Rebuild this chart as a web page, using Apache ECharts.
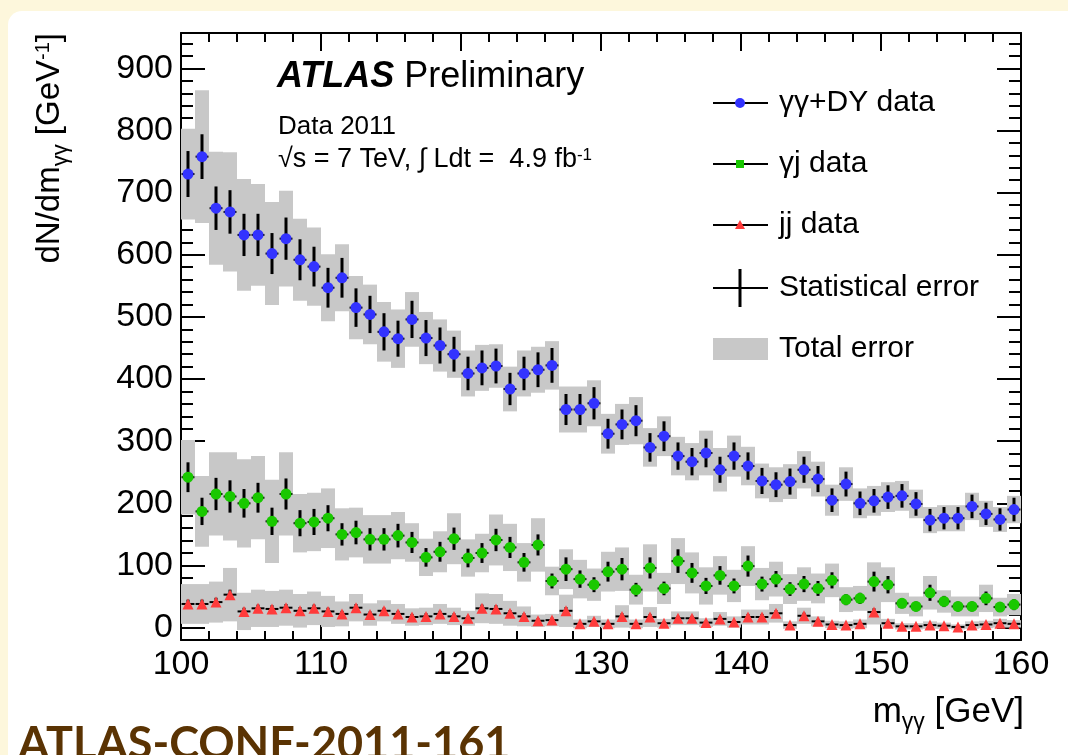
<!DOCTYPE html>
<html>
<head>
<meta charset="utf-8">
<title>Diphoton sample composition, ATLAS 2011</title>
<script src="https://cdn.jsdelivr.net/npm/echarts@6.0.0/dist/echarts.min.js"></script>
<style>
  html, body { margin: 0; padding: 0; }
  body { width: 1068px; height: 755px; background: #fdf7dc; position: relative; overflow: hidden; }
  #panel { position: absolute; left: 8px; top: 11px; right: 0; bottom: 0; background: #ffffff; border-top-left-radius: 14px; }
  #chart { position: absolute; left: 0; top: 0; width: 1068px; height: 755px; }
</style>
</head>
<body>
<div id="panel"></div>
<div id="chart"></div>
<script>
// m_gammagamma bin centres [GeV], 1 GeV wide bins
const binCentres = [
  100.5, 101.5, 102.5, 103.5, 104.5, 105.5, 106.5, 107.5, 108.5, 109.5,
  110.5, 111.5, 112.5, 113.5, 114.5, 115.5, 116.5, 117.5, 118.5, 119.5,
  120.5, 121.5, 122.5, 123.5, 124.5, 125.5, 126.5, 127.5, 128.5, 129.5,
  130.5, 131.5, 132.5, 133.5, 134.5, 135.5, 136.5, 137.5, 138.5, 139.5,
  140.5, 141.5, 142.5, 143.5, 144.5, 145.5, 146.5, 147.5, 148.5, 149.5,
  150.5, 151.5, 152.5, 153.5, 154.5, 155.5, 156.5, 157.5, 158.5, 159.5
];

// gamma-gamma + Drell-Yan yield, dN/dm [GeV^-1]
const diphotonData = [
  730, 758, 675, 669, 632, 632, 602, 626, 592, 581,
  547, 563, 515, 504, 476, 465, 496, 466, 454, 440,
  409, 418, 421, 384, 409, 415, 422, 351, 351, 361,
  312, 327, 333, 290, 308, 276, 267, 281, 254, 276,
  260, 236, 230, 235, 254, 239, 205, 231, 200, 204,
  210, 212, 199, 173, 176, 176, 195, 183, 174, 190
];
const diphotonStat = [
  37, 36, 35, 35, 34, 34, 33, 34, 33, 32,
  32, 32, 31, 30, 30, 29, 30, 29, 29, 28,
  27, 28, 28, 26, 27, 28, 28, 25, 25, 26,
  24, 24, 25, 23, 24, 22, 22, 23, 21, 22,
  22, 21, 20, 21, 21, 21, 19, 20, 19, 19,
  19, 19, 19, 18, 18, 18, 19, 18, 18, 19
];
const diphotonTotal = [
  73, 107, 91, 96, 90, 82, 83, 77, 66, 63,
  54, 54, 51, 48, 48, 47, 44, 42, 42, 38,
  37, 37, 35, 36, 37, 37, 39, 37, 37, 37,
  32, 33, 38, 31, 32, 31, 30, 36, 35, 33,
  31, 28, 28, 28, 30, 28, 25, 27, 24, 24,
  24, 24, 23, 21, 21, 21, 22, 21, 20, 22
];

// gamma-jet yield
const photonJetData = [
  242, 187, 215, 211, 200, 209, 171, 215, 168, 170,
  176, 150, 153, 142, 142, 148, 137, 113, 122, 143,
  112, 120, 141, 129, 105, 133, 75, 94, 78, 69,
  90, 94, 61, 96, 63, 107, 88, 67, 84, 67,
  99, 70, 78, 62, 70, 63, 76, 45, 47, 74,
  69, 39, 34, 56, 42, 34, 34, 47, 33, 37
];
const photonJetStat = [
  24, 22, 26, 26, 23, 24, 22, 25, 21, 21,
  21, 18, 19, 18, 18, 19, 17, 15, 16, 18,
  15, 16, 18, 17, 15, 17, 12, 19, 14, 12,
  16, 18, 11, 17, 11, 19, 16, 13, 15, 12,
  17, 12, 13, 11, 13, 12, 13, 9, 9, 16,
  14, 8, 8, 13, 9, 8, 8, 11, 8, 9
];
const photonJetTotal = [
  60, 57, 67, 71, 71, 67, 67, 67, 47, 47,
  48, 42, 40, 39, 39, 38, 31, 30, 33, 41,
  30, 31, 41, 38, 31, 43, 23, 32, 31, 26,
  32, 35, 24, 38, 25, 37, 33, 30, 31, 26,
  32, 26, 28, 24, 27, 24, 27, 20, 20, 31,
  28, 17, 16, 27, 18, 16, 16, 22, 15, 17
];

// jet-jet yield
const dijetData = [
  38, 38, 41, 53, 26, 31, 30, 32, 27, 31,
  26, 22, 32, 21, 27, 22, 17, 18, 22, 18,
  15, 31, 30, 23, 18, 11, 12, 27, 6, 10,
  6, 18, 6, 17, 7, 15, 15, 8, 14, 9,
  17, 17, 23, 4, 19, 10, 5, 4, 6, 25,
  7, 2, 2, 4, 3, 1, 4, 5, 7, 6
];
const dijetStat = [
  7, 7, 7, 8, 6, 6, 6, 6, 6, 6,
  6, 5, 6, 5, 5, 5, 5, 5, 5, 5,
  4, 6, 6, 5, 5, 4, 4, 6, 3, 4,
  3, 5, 3, 5, 3, 4, 4, 3, 4, 3,
  5, 5, 5, 2, 5, 4, 3, 2, 3, 6,
  3, 2, 2, 2, 2, 2, 2, 3, 3, 3
];
const dijetTotal = [
  32, 32, 33, 43, 30, 30, 29, 29, 27, 27,
  25, 20, 22, 18, 17, 16, 14, 14, 16, 14,
  12, 24, 24, 20, 16, 10, 10, 26, 7, 9,
  7, 18, 7, 16, 7, 11, 11, 7, 11, 9,
  12, 12, 15, 6, 13, 8, 6, 6, 7, 20,
  7, 5, 5, 6, 5, 4, 6, 6, 7, 6
];

// labelled y ticks
const yTickValues = [0, 100, 200, 300, 400, 500, 600, 700, 800, 900];

const FONT = "'Liberation Sans', Arial, Helvetica, sans-serif";
const BLACK = '#000000';
const BOX_GREY = '#c8c8c8';
const BLUE = '#3333ff';
const GREEN = '#19c800';
const RED = '#ff3b3b';

function rows(values, stat, total) {
  return binCentres.map((x, i) => [x, values[i], stat[i], total[i]]);
}

// grey band: total uncertainty over the full bin width
function totalBox(params, api) {
  const x = api.value(0), y = api.value(1), e = api.value(3);
  const a = api.coord([x - 0.5, y + e]);
  const b = api.coord([x + 0.5, y - e]);
  return {
    type: 'rect',
    shape: { x: a[0], y: a[1], width: b[0] - a[0], height: b[1] - a[1] },
    style: { fill: BOX_GREY }
  };
}

// black cross: statistical error (vertical) and bin width (horizontal)
function statBar(params, api) {
  const x = api.value(0), y = api.value(1), s = api.value(2);
  const t = api.coord([x, y + s]);
  const b = api.coord([x, y - s]);
  const l = api.coord([x - 0.46, y]);
  const r = api.coord([x + 0.46, y]);
  return {
    type: 'group',
    children: [
      { type: 'line', shape: { x1: t[0], y1: t[1], x2: b[0], y2: b[1] }, style: { stroke: BLACK, lineWidth: 3 } },
      { type: 'line', shape: { x1: l[0], y1: l[1], x2: r[0], y2: r[1] }, style: { stroke: BLACK, lineWidth: 2 } }
    ]
  };
}

const samples = [
  { name: 'γγ+DY data', rows: rows(diphotonData, diphotonStat, diphotonTotal), color: BLUE, symbol: 'circle', size: 11 },
  { name: 'γj data', rows: rows(photonJetData, photonJetStat, photonJetTotal), color: GREEN, symbol: 'circle', size: 11 },
  { name: 'jj data', rows: rows(dijetData, dijetStat, dijetTotal), color: RED, symbol: 'triangle', size: 11 }
];

const series = [];
samples.forEach(s => series.push({
  type: 'custom', name: s.name + ' total', renderItem: totalBox, data: s.rows,
  clip: true, z: 1, silent: true, encode: { x: 0, y: 1 }
}));
samples.forEach(s => series.push({
  type: 'custom', name: s.name + ' stat', renderItem: statBar, data: s.rows,
  clip: true, z: 2, silent: true, encode: { x: 0, y: 1 }
}));
samples.forEach(s => series.push({
  type: 'scatter', name: s.name, data: s.rows, symbol: s.symbol, symbolSize: s.size,
  itemStyle: { color: s.color, opacity: 1 }, z: 3, silent: true, encode: { x: 0, y: 1 }
}));

const axisLine = { show: true, onZero: false, lineStyle: { color: BLACK, width: 2 } };
const tickStyle = { color: BLACK, width: 2 };

const xBase = (position, labels) => ({
  type: 'value', min: 100, max: 160, interval: 10, position: position,
  axisLine: axisLine,
  axisTick: { show: true, inside: true, length: 18, lineStyle: tickStyle },
  minorTick: { show: true, splitNumber: 5, length: 9, lineStyle: tickStyle },
  axisLabel: { show: labels, margin: 8, color: BLACK, fontSize: 34, fontFamily: FONT },
  splitLine: { show: false }, minorSplitLine: { show: false }
});

const yMajor = (position, labels) => ({
  type: 'value', min: -20, max: 957, position: position,
  axisLine: axisLine,
  axisTick: { show: true, inside: true, length: 24, customValues: yTickValues, lineStyle: tickStyle },
  axisLabel: { show: labels, customValues: yTickValues, margin: 8, color: BLACK, fontSize: 34, fontFamily: FONT },
  splitLine: { show: false }
});

const yMinor = (position) => ({
  type: 'value', min: -20, max: 957, interval: 20, position: position,
  axisLine: { show: false },
  axisTick: { show: true, inside: true, length: 12, lineStyle: tickStyle },
  axisLabel: { show: false },
  splitLine: { show: false }
});

// legend rows
const LEG_X0 = 713, LEG_X1 = 768, LEG_MID = 740, LEG_TEXT = 779;
const legendRows = [103, 164, 225, 288, 349];
const legendText = (y, txt) => ({
  type: 'text', x: LEG_TEXT, y: y, z: 10,
  style: { text: txt, fill: BLACK, font: '30px ' + FONT, align: 'left', verticalAlign: 'middle', textAlign: 'left', textVerticalAlign: 'middle' }
});
const legendLine = (y) => ({
  type: 'line', z: 10, shape: { x1: LEG_X0, y1: y, x2: LEG_X1, y2: y }, style: { stroke: BLACK, lineWidth: 2 }
});

const graphics = [
  legendLine(legendRows[0]),
  { type: 'circle', z: 11, shape: { cx: LEG_MID, cy: legendRows[0], r: 5 }, style: { fill: BLUE } },
  legendText(legendRows[0], 'γγ+DY data'),
  legendLine(legendRows[1]),
  { type: 'rect', z: 11, shape: { x: LEG_MID - 4, y: legendRows[1] - 4, width: 8, height: 8 }, style: { fill: GREEN } },
  legendText(legendRows[1], 'γj data'),
  legendLine(legendRows[2]),
  { type: 'polygon', z: 11, shape: { points: [[LEG_MID, legendRows[2] - 5], [LEG_MID + 5, legendRows[2] + 4], [LEG_MID - 5, legendRows[2] + 4]] }, style: { fill: RED } },
  legendText(legendRows[2], 'jj data'),
  legendLine(legendRows[3]),
  { type: 'line', z: 10, shape: { x1: LEG_MID, y1: legendRows[3] - 19, x2: LEG_MID, y2: legendRows[3] + 19 }, style: { stroke: BLACK, lineWidth: 3 } },
  legendText(legendRows[3], 'Statistical error'),
  { type: 'rect', z: 10, shape: { x: LEG_X0, y: legendRows[4] - 11, width: LEG_X1 - LEG_X0, height: 22 }, style: { fill: BOX_GREY } },
  legendText(legendRows[4], 'Total error'),

  // experiment label
  { type: 'text', x: 277, y: 77, z: 10,
    style: {
      text: '{a|ATLAS}{b| Preliminary}', align: 'left', verticalAlign: 'middle', textAlign: 'left', textVerticalAlign: 'middle',
      rich: {
        a: { fontFamily: FONT, fontSize: 36, fontWeight: 'bold', fontStyle: 'italic', fill: BLACK, color: BLACK },
        b: { fontFamily: FONT, fontSize: 36, fill: BLACK, color: BLACK }
      }
    }
  },
  { type: 'text', x: 278, y: 127, z: 10,
    style: { text: 'Data 2011', font: '26px ' + FONT, fill: BLACK, align: 'left', verticalAlign: 'middle', textAlign: 'left', textVerticalAlign: 'middle' } },
  { type: 'text', x: 278, y: 160, z: 10,
    style: {
      text: '{m|√s = 7 TeV, ∫ Ldt =  4.9 fb}{p|-1}', align: 'left', verticalAlign: 'middle', textAlign: 'left', textVerticalAlign: 'middle',
      rich: {
        m: { fontFamily: FONT, fontSize: 27, lineHeight: 27, verticalAlign: 'top', fill: BLACK, color: BLACK },
        p: { fontFamily: FONT, fontSize: 17, lineHeight: 17, verticalAlign: 'top', fill: BLACK, color: BLACK }
      }
    }
  },

  // axis titles
  { type: 'text', x: 50, y: 33, rotation: Math.PI / 2, z: 10,
    style: {
      text: '{m|dN/dm}{s|γγ}{m| [GeV}{p|-1}{m|]}', align: 'right', verticalAlign: 'middle', textAlign: 'right', textVerticalAlign: 'middle',
      rich: {
        m: { fontFamily: FONT, fontSize: 33, lineHeight: 33, verticalAlign: 'top', fill: BLACK, color: BLACK },
        s: { fontFamily: FONT, fontSize: 22, lineHeight: 22, padding: [16, 0, 0, 0], verticalAlign: 'top', fill: BLACK, color: BLACK },
        p: { fontFamily: FONT, fontSize: 20, lineHeight: 20, verticalAlign: 'top', fill: BLACK, color: BLACK }
      }
    }
  },
  { type: 'text', x: 1024, y: 712, z: 10,
    style: {
      text: '{m|m}{s|γγ}{m| [GeV]}', align: 'right', verticalAlign: 'middle', textAlign: 'right', textVerticalAlign: 'middle',
      rich: {
        m: { fontFamily: FONT, fontSize: 35, lineHeight: 35, verticalAlign: 'top', fill: BLACK, color: BLACK },
        s: { fontFamily: FONT, fontSize: 23, lineHeight: 23, padding: [17, 0, 0, 0], verticalAlign: 'top', fill: BLACK, color: BLACK }
      }
    }
  },

  // note reference
  { type: 'text', x: 18, y: 744, z: 10,
    style: { text: 'ATLAS-CONF-2011-161', font: 'bold 45px Lato, ' + FONT, fill: '#5a3303', align: 'left', verticalAlign: 'middle', textAlign: 'left', textVerticalAlign: 'middle' } }
];

const chart = echarts.init(document.getElementById('chart'), null, { renderer: 'canvas' });
chart.setOption({
  animation: false,
  backgroundColor: 'transparent',
  textStyle: { fontFamily: FONT },
  grid: { left: 181, right: 47, top: 33, bottom: 115, containLabel: false, outerBoundsMode: 'none' },
  xAxis: [xBase('bottom', true), xBase('top', false)],
  yAxis: [yMajor('left', true), yMinor('left'), yMajor('right', false), yMinor('right')],
  series: series,
  graphic: { elements: graphics }
});
</script>
</body>
</html>
